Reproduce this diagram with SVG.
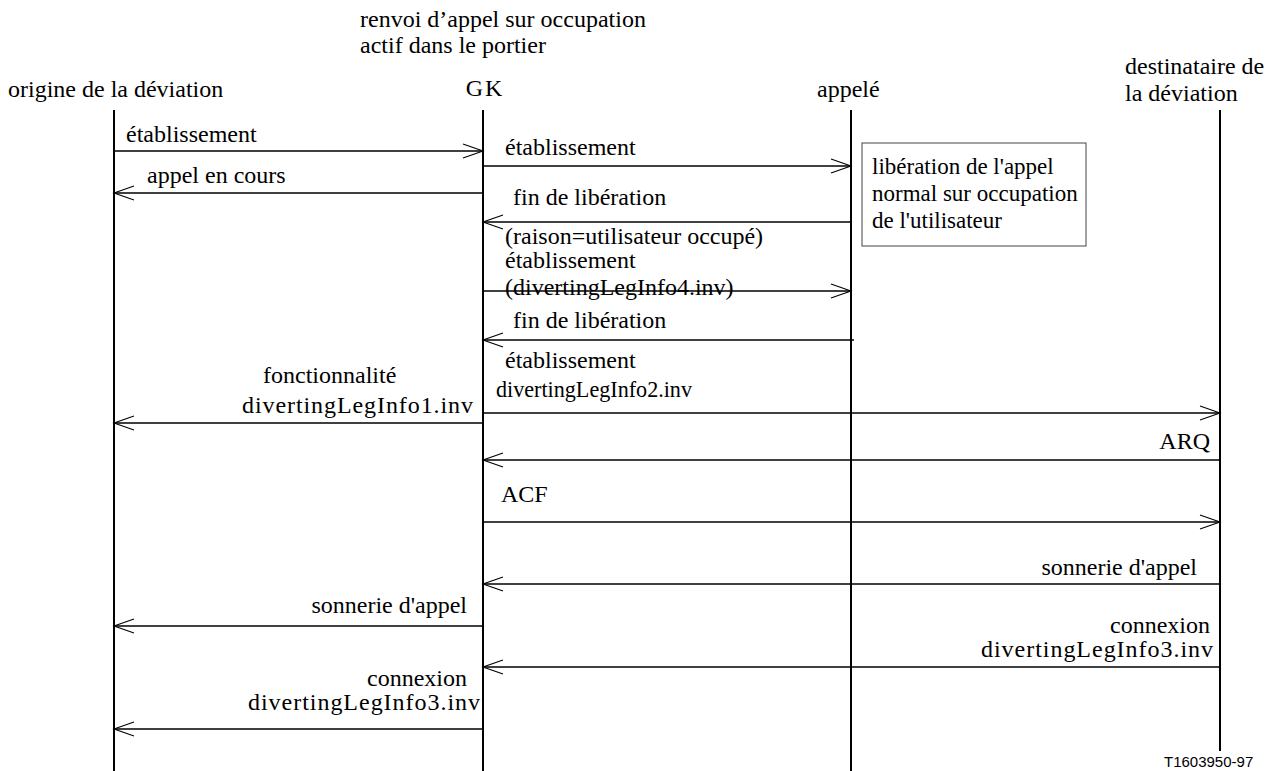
<svg xmlns="http://www.w3.org/2000/svg" width="1275" height="771" viewBox="0 0 1275 771">
<style>
text{font-family:"Liberation Serif","Times New Roman",serif;font-size:24px;fill:#000}
text.n{font-size:23px}
.r{text-anchor:end}
.c{text-anchor:middle}
.life{stroke:#000;stroke-width:2;fill:none}
.msg{stroke:#000;stroke-width:1.6;fill:none}
.head{stroke:#000;stroke-width:1.1;fill:none}
.note{fill:#fff;stroke:#444;stroke-width:1}
text.code{font-family:"Liberation Sans",Arial,sans-serif;font-size:15px}
</style>
<rect width="1275" height="771" fill="#fff"/>
<g id="title">
<text x="360" y="27">renvoi d’appel sur occupation</text>
<text x="360" y="53">actif dans le portier</text>
</g>
<g id="origine">
<text x="8" y="97">origine de la déviation</text>
<line class="life" x1="114" y1="110" x2="114" y2="771"/>
</g>
<g id="gk">
<text class="c" x="485" y="96" letter-spacing="2">GK</text>
<line class="life" x1="483" y1="110" x2="483" y2="771"/>
</g>
<g id="appele">
<text x="817" y="97">appelé</text>
<line class="life" x1="851" y1="110" x2="851" y2="771"/>
</g>
<g id="destinataire">
<text x="1125" y="74">destinataire de</text>
<text x="1125" y="101">la déviation</text>
<line class="life" x1="1220" y1="110" x2="1220" y2="751"/>
</g>
<g id="note">
<rect class="note" x="862" y="143" width="224" height="103"/>
<text class="n" x="872" y="174">libération de l'appel</text>
<text class="n" x="872" y="201">normal sur occupation</text>
<text class="n" x="872" y="228">de l'utilisateur</text>
</g>
<g id="connectors">
<line class="msg" x1="114" y1="151" x2="483" y2="151"/>
<polyline class="head" points="463,144 483,151 463,158"/>
<line class="msg" x1="483" y1="166" x2="851" y2="166"/>
<polyline class="head" points="831,159 851,166 831,173"/>
<line class="msg" x1="483" y1="193" x2="114" y2="193"/>
<polyline class="head" points="134,186 114,193 134,200"/>
<line class="msg" x1="851" y1="222" x2="483" y2="222"/>
<polyline class="head" points="503,215 483,222 503,229"/>
<line class="msg" x1="483" y1="291" x2="851" y2="291"/>
<polyline class="head" points="831,284 851,291 831,298"/>
<line class="msg" x1="854" y1="340" x2="483" y2="340"/>
<polyline class="head" points="503,333 483,340 503,347"/>
<line class="msg" x1="483" y1="413" x2="1220" y2="413"/>
<polyline class="head" points="1200,406 1220,413 1200,420"/>
<line class="msg" x1="483" y1="423" x2="114" y2="423"/>
<polyline class="head" points="134,416 114,423 134,430"/>
<line class="msg" x1="1220" y1="460" x2="483" y2="460"/>
<polyline class="head" points="503,453 483,460 503,467"/>
<line class="msg" x1="483" y1="522" x2="1220" y2="522"/>
<polyline class="head" points="1200,515 1220,522 1200,529"/>
<line class="msg" x1="1220" y1="584" x2="483" y2="584"/>
<polyline class="head" points="503,577 483,584 503,591"/>
<line class="msg" x1="483" y1="626" x2="114" y2="626"/>
<polyline class="head" points="134,619 114,626 134,633"/>
<line class="msg" x1="1220" y1="667" x2="483" y2="667"/>
<polyline class="head" points="503,660 483,667 503,674"/>
<line class="msg" x1="483" y1="729" x2="114" y2="729"/>
<polyline class="head" points="134,722 114,729 134,736"/>
</g>
<g id="labels">
<text x="126" y="142">établissement</text>
<text x="505" y="155">établissement</text>
<text x="147" y="183">appel en cours</text>
<text x="513" y="205">fin de libération</text>
<text x="505" y="244">(raison=utilisateur occupé)</text>
<text x="505" y="268">établissement</text>
<text x="505" y="295">(divertingLegInfo4.inv)</text>
<text x="513" y="328">fin de libération</text>
<text x="505" y="368">établissement</text>
<text x="496" y="397" textLength="196" lengthAdjust="spacingAndGlyphs">divertingLegInfo2.inv</text>
<text x="263" y="383">fonctionnalité</text>
<text x="242" y="413" textLength="231" lengthAdjust="spacing">divertingLegInfo1.inv</text>
<text class="r" x="1210" y="449">ARQ</text>
<text x="501" y="502">ACF</text>
<text class="r" x="1197" y="575">sonnerie d'appel</text>
<text class="r" x="467" y="613">sonnerie d'appel</text>
<text class="r" x="1210" y="633">connexion</text>
<text x="981" y="657" textLength="232" lengthAdjust="spacing">divertingLegInfo3.inv</text>
<text class="r" x="467" y="686">connexion</text>
<text x="248" y="710" textLength="232" lengthAdjust="spacing">divertingLegInfo3.inv</text>
<text class="code" x="1164" y="767">T1603950-97</text>
</g>
</svg>
